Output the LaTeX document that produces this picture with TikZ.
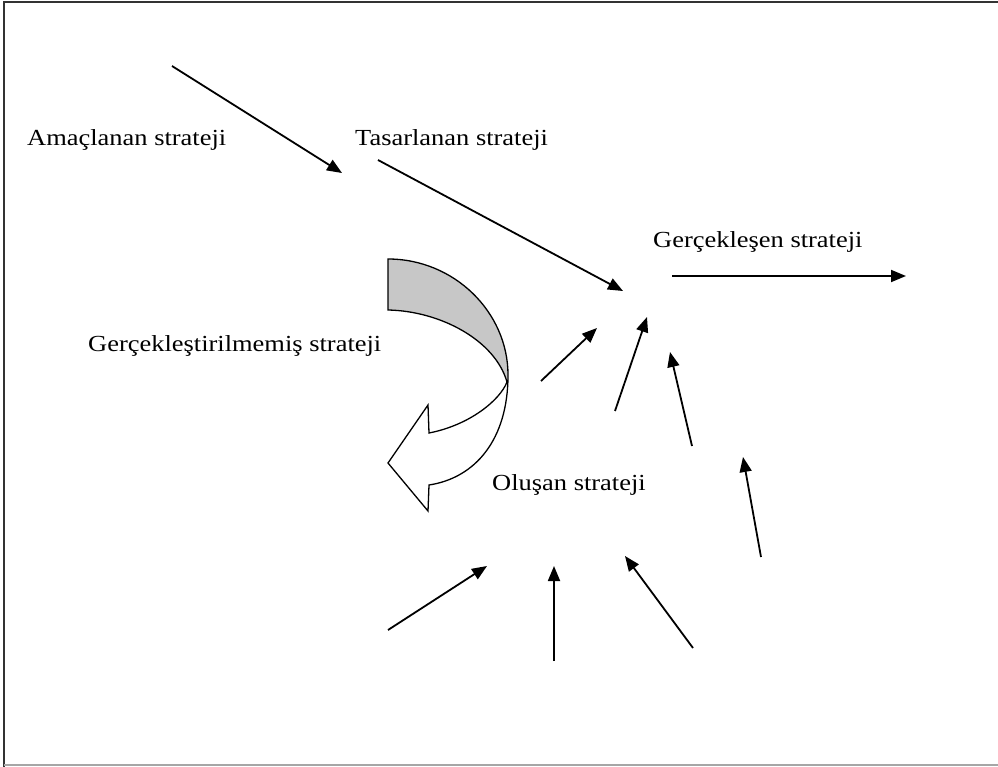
\documentclass[tikz,border=0pt]{standalone}
\usepackage{fontspec}
\setmainfont{Liberation Serif}
\usetikzlibrary{arrows.meta}
\begin{document}
\begin{tikzpicture}[x=1pt,y=-1pt,
  lbl/.style={anchor=base west,inner sep=0pt,font=\fontsize{23}{27}\selectfont},
  flow/.style={line width=1.8pt,-{Triangle[length=15pt,width=12pt]}},
  band/.style={draw=black,line width=1.3pt,line join=miter}]
\useasboundingbox (0,0) rectangle (998,767);
% frame
\draw[line width=2pt,black!80] (998,2) -- (4,2) -- (4,767);
\draw[line width=1.2pt,black!35] (4,765) -- (998,765);

% labels
\node[lbl] (amac) at (27,146) {\scalebox{1.15}[1]{Amaçlanan strateji}};
\node[lbl] (tasar) at (355,146) {\scalebox{1.15}[1]{Tasarlanan strateji}};
\node[lbl] (gercek) at (653,248) {\scalebox{1.15}[1]{Gerçekleşen strateji}};
\node[lbl] (gercekm) at (88,351) {\scalebox{1.15}[1]{Gerçekleştirilmemiş strateji}};
\node[lbl] (olusan) at (492,490) {\scalebox{1.15}[1]{Oluşan strateji}};

% deliberate path
\coordinate (a1) at (172,66);  \coordinate (a2) at (342,173);
\coordinate (b1) at (378,160); \coordinate (b2) at (623,291);
\coordinate (c1) at (672,276); \coordinate (c2) at (906,276);
\draw[flow] (a1) -- (a2);
\draw[flow] (b1) -- (b2);
\draw[flow] (c1) -- (c2);

% emergent inputs
\coordinate (e1s) at (541,381); \coordinate (e1t) at (597,328);
\coordinate (e2s) at (615,411); \coordinate (e2t) at (647,317);
\coordinate (e3s) at (692,446); \coordinate (e3t) at (670,352);
\coordinate (e4s) at (761,557); \coordinate (e4t) at (743,457);
\coordinate (e5s) at (388,630); \coordinate (e5t) at (487,566);
\coordinate (e6s) at (554,661); \coordinate (e6t) at (554,566);
\coordinate (e7s) at (693,648); \coordinate (e7t) at (625,556);
\foreach \p in {e1,e2,e3,e4,e5,e6,e7}
  \draw[flow] (\p s) -- (\p t);

% curved arrow for the unrealised strategy
\coordinate (k) at (507,382);
\fill[black!22] (388,259) .. controls (454,259) and (508,312) .. (508,375)
  -- (k) .. controls (495,340) and (440,311) .. (388,310) -- cycle;
\draw[band] (k) .. controls (500,400) and (470,425) .. (429,433)
  -- (428,405) -- (388,463) -- (428,511) -- (429,485)
  .. controls (475,478) and (508,440) .. (508,375)
  .. controls (508,312) and (454,259) .. (388,259)
  -- (388,310) .. controls (440,311) and (495,340) .. (k);
\end{tikzpicture}
\end{document}
